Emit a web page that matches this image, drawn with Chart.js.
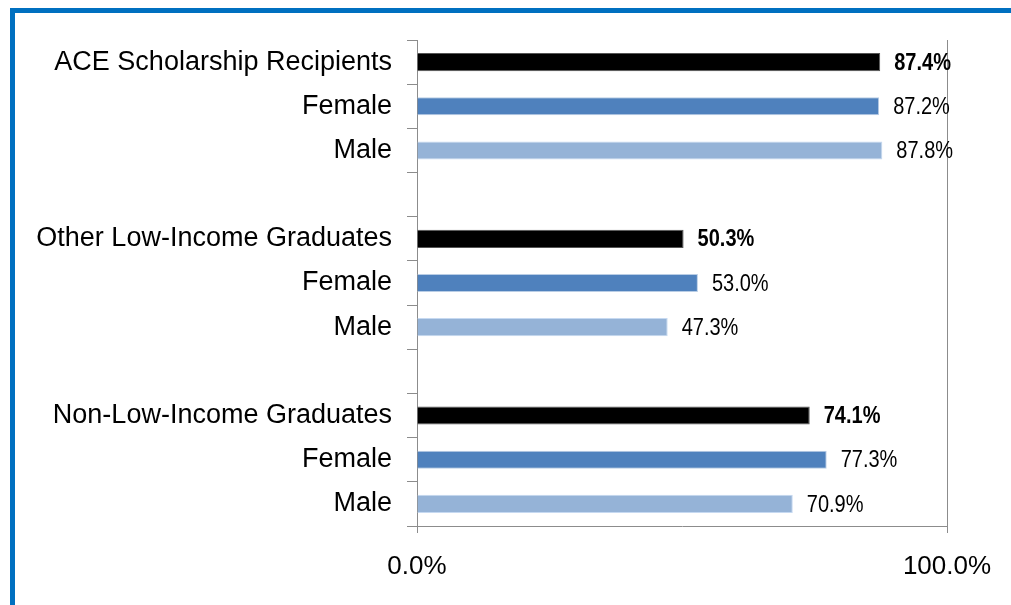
<!DOCTYPE html>
<html>
<head>
<meta charset="utf-8">
<script src="https://cdn.jsdelivr.net/npm/chart.js@4/dist/chart.umd.min.js"></script>
<style>
  html, body { margin: 0; padding: 0; background: #fff; }
  .frame {
    position: absolute; left: 10px; top: 8px; width: 1100px; height: 700px;
    border-top: 5px solid #0070C0; border-left: 5px solid #0070C0;
  }
  .wrap { position: absolute; left: 0; top: 0; width: 1011px; height: 605px; }
</style>
</head>
<body>
<div class="frame"></div>
<div class="wrap"><canvas id="gradChart"></canvas></div>
<script>
// rows, top to bottom; '' rows are spacers between groups
const categories = [
  'ACE Scholarship Recipients', 'Female', 'Male', '',
  'Other Low-Income Graduates', 'Female', 'Male', '',
  'Non-Low-Income Graduates', 'Female', 'Male'
];
const rates = [87.4, 87.2, 87.8, null, 50.3, 53.0, 47.3, null, 74.1, 77.3, 70.9];
const rowKind = ['total', 'female', 'male', '', 'total', 'female', 'male', '', 'total', 'female', 'male'];
const xTicks = [0, 100];

const fills = { total: '#000000', female: '#4F81BD', male: '#95B3D7', '': 'transparent' };
const edges = { total: '#555555', female: '#B9CDE5', male: '#C6D9F1', '': 'transparent' };

const FONT = "'Liberation Sans', Arial, sans-serif";

// draws the value next to each bar (no datalabels plugin available offline)
const valueLabels = {
  id: 'valueLabels',
  afterDatasetsDraw(chart) {
    const ctx = chart.ctx;
    const meta = chart.getDatasetMeta(0);
    ctx.save();
    ctx.fillStyle = '#000';
    ctx.textBaseline = 'middle';
    ctx.textAlign = 'left';
    meta.data.forEach((bar, i) => {
      if (rates[i] == null) return;
      ctx.font = (rowKind[i] === 'total' ? 'bold ' : '') + '20px ' + FONT;
      // glyphs in the original are a bit taller than wide
      ctx.save();
      ctx.translate(bar.x + 14, bar.y + 1);
      ctx.scale(1, 1.2);
      ctx.fillText(rates[i].toFixed(1) + '%', 0, 0);
      ctx.restore();
    });
    ctx.restore();
  }
};

new Chart(document.getElementById('gradChart'), {
  type: 'bar',
  data: {
    labels: categories,
    datasets: [{
      data: rates,
      backgroundColor: rowKind.map(k => fills[k]),
      borderColor: rowKind.map(k => edges[k]),
      borderWidth: 1,
      barPercentage: 0.41,
      categoryPercentage: 1
    }]
  },
  options: {
    indexAxis: 'y',
    responsive: true,
    maintainAspectRatio: false,
    animation: false,
    layout: { padding: { top: 40, right: 64, bottom: 0, left: 0 } },
    plugins: {
      legend: { display: false },
      tooltip: { enabled: false }
    },
    scales: {
      x: {
        min: 0,
        max: 100,
        afterBuildTicks(scale) { scale.ticks = xTicks.map(v => ({ value: v })); },
        afterFit(scale) {
          scale.height = 79;
          scale.paddingLeft = 0;
          scale.paddingRight = 0;
        },
        grid: { color: '#8c8c8c', tickLength: 7, lineWidth: 1 },
        border: { color: '#8c8c8c' },
        ticks: {
          color: '#000',
          padding: 18,
          font: { family: FONT, size: 26 },
          callback: v => v.toFixed(1) + '%'
        }
      },
      y: {
        afterFit(scale) { scale.width = 417; },
        grid: { drawOnChartArea: false, color: '#8c8c8c', tickLength: 10, offset: true },
        border: { color: '#8c8c8c' },
        ticks: {
          color: '#000',
          padding: 15,
          autoSkip: false,
          font: { family: FONT, size: 27 }
        }
      }
    }
  },
  plugins: [valueLabels]
});
</script>
</body>
</html>
